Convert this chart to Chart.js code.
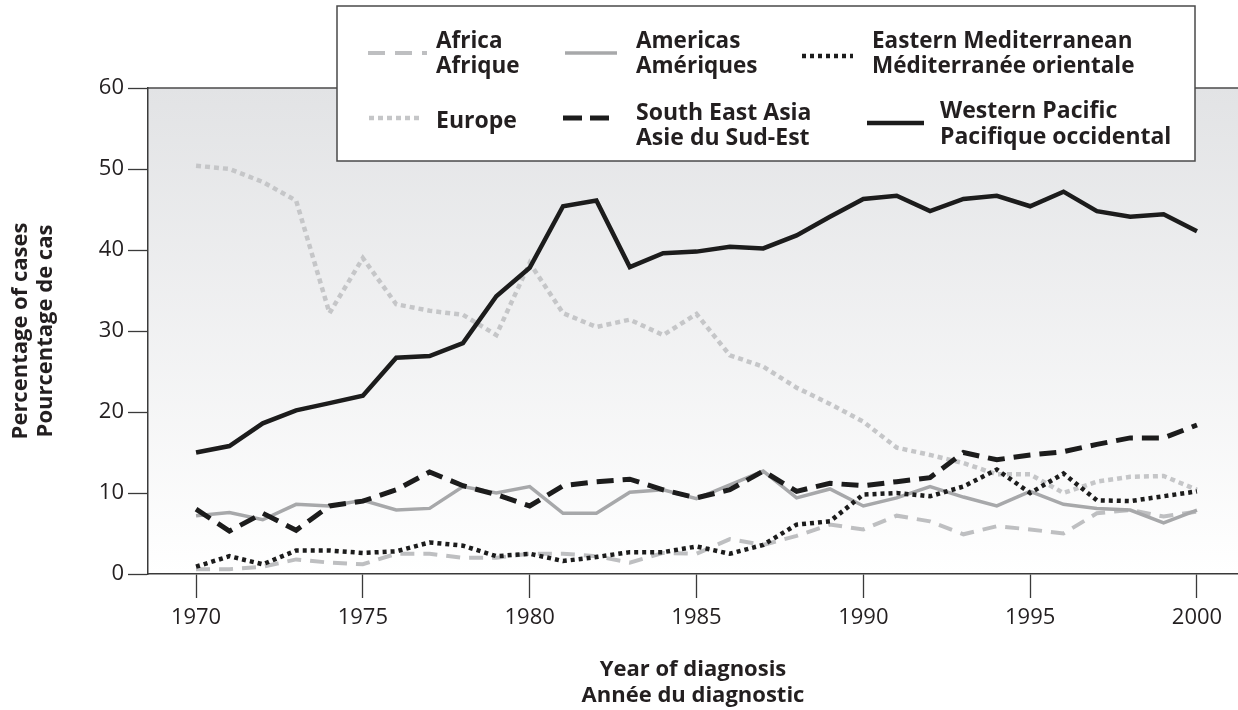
<!DOCTYPE html>
<html>
<head>
<meta charset="utf-8">
<title>Leprosy cases by WHO region, 1970-2000</title>
<script src="https://cdn.jsdelivr.net/npm/chart.js@4.4.1/dist/chart.umd.min.js"></script>
<style>
  html, body { margin: 0; padding: 0; background: #fff; }
  #tbChart { display: block; }
</style>
</head>
<body>
<canvas id="tbChart" width="1238" height="710"></canvas>
<script>
// data (percentage of cases per year)
const years = [1970, 1971, 1972, 1973, 1974, 1975, 1976, 1977, 1978, 1979,
               1980, 1981, 1982, 1983, 1984, 1985, 1986, 1987, 1988, 1989,
               1990, 1991, 1992, 1993, 1994, 1995, 1996, 1997, 1998, 1999, 2000];

const africa   = [0.6, 0.6, 0.9, 1.8, 1.4, 1.2, 2.5, 2.5, 2.0, 2.0,
                  2.5, 2.5, 2.2, 1.4, 2.6, 2.5, 4.3, 3.6, 4.7, 6.1,
                  5.5, 7.2, 6.5, 4.9, 5.9, 5.5, 5.0, 7.5, 7.9, 7.1, 7.7];
const americas = [7.2, 7.6, 6.7, 8.6, 8.4, 9.1, 7.9, 8.1, 10.8, 10.0,
                  10.8, 7.5, 7.5, 10.1, 10.4, 9.3, 11.0, 12.7, 9.4, 10.5,
                  8.4, 9.4, 10.8, 9.5, 8.4, 10.2, 8.6, 8.1, 7.9, 6.3, 7.9];
const eastMed  = [0.9, 2.2, 1.2, 2.9, 2.9, 2.6, 2.8, 3.9, 3.5, 2.2,
                  2.5, 1.6, 2.1, 2.7, 2.7, 3.4, 2.5, 3.6, 6.1, 6.5,
                  9.8, 10.0, 9.6, 10.8, 12.9, 10.0, 12.4, 9.1, 9.0, 9.6, 10.2];
const europe   = [50.4, 50.0, 48.4, 46.1, 32.2, 39.0, 33.3, 32.5, 32.0, 29.5,
                  38.4, 32.2, 30.5, 31.4, 29.5, 32.1, 27.0, 25.6, 23.0, 21.0,
                  18.8, 15.6, 14.7, 13.7, 12.3, 12.3, 10.0, 11.4, 12.0, 12.1, 10.4];
const seAsia   = [8.0, 5.3, 7.5, 5.4, 8.4, 9.0, 10.4, 12.6, 10.9, 9.8,
                  8.4, 10.9, 11.4, 11.7, 10.4, 9.4, 10.4, 12.7, 10.2, 11.2,
                  10.9, 11.4, 11.9, 15.0, 14.1, 14.7, 15.1, 16.0, 16.8, 16.8, 18.4];
const westPac  = [15.0, 15.8, 18.6, 20.2, 21.1, 22.0, 26.7, 26.9, 28.5, 34.3,
                  37.8, 45.4, 46.1, 37.9, 39.6, 39.8, 40.4, 40.2, 41.8, 44.1,
                  46.3, 46.7, 44.8, 46.3, 46.7, 45.4, 47.2, 44.8, 44.1, 44.4, 42.3];

const namesEn = ['Africa', 'Americas', 'Eastern Mediterranean', 'Europe', 'South East Asia', 'Western Pacific'];
const namesFr = ['Afrique', 'Amériques', 'Méditerranée orientale', '', 'Asie du Sud-Est', 'Pacifique occidental'];

const yearTicks  = [1970, 1975, 1980, 1985, 1990, 1995, 2000];
const valueTicks = [0, 10, 20, 30, 40, 50, 60];

const xTitle = ['Year of diagnosis', 'Année du diagnostic'];
const yTitle = ['Percentage of cases', 'Pourcentage de cas'];

const FONT = "'Open Sans', 'Noto Sans', sans-serif";
const INK = '#231f20';

function pts(arr) {
  return years.map((yr, i) => ({ x: yr, y: arr[i] }));
}

// first dataset ends up on top
const datasets = [
  { key: 5, label: namesEn[5], data: pts(westPac),  borderColor: '#1c1c1c', borderWidth: 4.5, borderDash: [] },
  { key: 4, label: namesEn[4], data: pts(seAsia),   borderColor: '#1c1c1c', borderWidth: 5,   borderDash: [17, 9] },
  { key: 2, label: namesEn[2], data: pts(eastMed),  borderColor: '#1c1c1c', borderWidth: 4.5, borderDash: [4, 4] },
  { key: 1, label: namesEn[1], data: pts(americas), borderColor: '#a7a8aa', borderWidth: 3.5, borderDash: [] },
  { key: 3, label: namesEn[3], data: pts(europe),   borderColor: '#c5c6c8', borderWidth: 4.5, borderDash: [5, 4] },
  { key: 0, label: namesEn[0], data: pts(africa),   borderColor: '#bebfc1', borderWidth: 4,   borderDash: [14, 9] }
].map(d => Object.assign(d, { pointRadius: 0, tension: 0, fill: false, borderCapStyle: 'butt' }));

// legend layout: sample line + text block for each region
const legendSlots = [
  { key: 0, sx: 368, sw: 59, sy: 53,  tx: 436, base: [48, 73],   size: 22.5, dash: [17, 10] },
  { key: 1, sx: 565, sw: 52, sy: 53,  tx: 636, base: [48, 73],   size: 22.5, dash: [] },
  { key: 2, sx: 802, sw: 51, sy: 56,  tx: 872, base: [48, 73],   size: 22.5, dash: [4, 4] },
  { key: 3, sx: 369, sw: 54, sy: 118, tx: 436, base: [128],      size: 23, dash: [5, 4] },
  { key: 4, sx: 563, sw: 54, sy: 118, tx: 636, base: [120, 145], size: 23, dash: [19, 8] },
  { key: 5, sx: 867, sw: 57, sy: 123, tx: 940, base: [118, 144], size: 23, dash: [] }
];

const backdrop = {
  id: 'backdrop',
  beforeDraw(chart) {
    const { ctx, chartArea: a } = chart;
    const g = ctx.createLinearGradient(0, a.top, 0, a.bottom);
    g.addColorStop(0, '#e2e3e5');
    g.addColorStop(1, '#ffffff');
    ctx.save();
    ctx.fillStyle = g;
    ctx.fillRect(a.left, a.top, a.right - a.left, a.bottom - a.top);
    ctx.strokeStyle = '#4a4a4a';
    ctx.lineWidth = 1.3;
    ctx.beginPath();
    ctx.moveTo(a.left, a.top);
    ctx.lineTo(a.right, a.top);
    ctx.stroke();
    ctx.restore();
  }
};

const bilingualLegend = {
  id: 'bilingualLegend',
  afterDraw(chart) {
    const ctx = chart.ctx;
    ctx.save();
    ctx.fillStyle = '#ffffff';
    ctx.fillRect(337, 6, 858, 155);
    ctx.strokeStyle = '#4a4a4a';
    ctx.lineWidth = 1.5;
    ctx.strokeRect(337, 6, 858, 155);

    legendSlots.forEach(slot => {
      const ds = chart.data.datasets.find(d => d.key === slot.key);
      ctx.strokeStyle = ds.borderColor;
      ctx.lineWidth = ds.borderWidth;
      ctx.lineCap = 'butt';
      ctx.setLineDash(slot.dash);
      ctx.beginPath();
      ctx.moveTo(slot.sx, slot.sy);
      ctx.lineTo(slot.sx + slot.sw, slot.sy);
      ctx.stroke();
      ctx.setLineDash([]);

      ctx.fillStyle = INK;
      ctx.font = "bold " + slot.size + "px " + FONT;
      ctx.textAlign = 'left';
      ctx.textBaseline = 'alphabetic';
      const lines = [namesEn[slot.key], namesFr[slot.key]].filter(t => t);
      lines.forEach((t, i) => ctx.fillText(t, slot.tx, slot.base[i]));
    });
    ctx.restore();
  }
};

const ctx = document.getElementById('tbChart').getContext('2d');
const tbChart = new Chart(ctx, {
  type: 'line',
  data: { datasets: datasets },
  options: {
    responsive: false,
    animation: false,
    devicePixelRatio: 1,
    layout: { padding: { top: 88, right: 0, bottom: 0, left: 0 } },
    plugins: {
      legend: { display: false },
      tooltip: { enabled: false }
    },
    scales: {
      x: {
        type: 'linear',
        min: 1968.56,
        max: 2001.23,
        afterBuildTicks: s => { s.ticks = yearTicks.map(v => ({ value: v })); },
        afterFit: s => { s.height = 136; },
        grid: { drawOnChartArea: false, drawTicks: true, tickLength: 24, tickColor: '#3a3a3a', tickWidth: 1.3 },
        border: { display: true, color: '#3a3a3a', width: 1.5 },
        ticks: { color: INK, font: { family: FONT, size: 22 }, padding: 7, maxRotation: 0,
                 callback: v => String(v) },
        title: { display: true, text: xTitle, color: INK,
                 font: { family: FONT, size: 22, weight: 'bold', lineHeight: 1.2 },
                 padding: { top: 0, bottom: 1 } }
      },
      y: {
        min: 0,
        max: 60,
        afterBuildTicks: s => { s.ticks = valueTicks.map(v => ({ value: v })); },
        afterFit: s => { s.width = 148; },
        grid: { drawOnChartArea: false, drawTicks: true, tickLength: 20, tickColor: '#3a3a3a', tickWidth: 1.3 },
        border: { display: true, color: '#3a3a3a', width: 1.5 },
        ticks: { color: INK, font: { family: FONT, size: 22 }, padding: 4 },
        title: { display: true, text: yTitle, color: INK,
                 font: { family: FONT, size: 22, weight: 'bold', lineHeight: 1.15 },
                 padding: { top: 8, bottom: 0 } }
      }
    }
  },
  plugins: [backdrop, bilingualLegend]
});
</script>
</body>
</html>
